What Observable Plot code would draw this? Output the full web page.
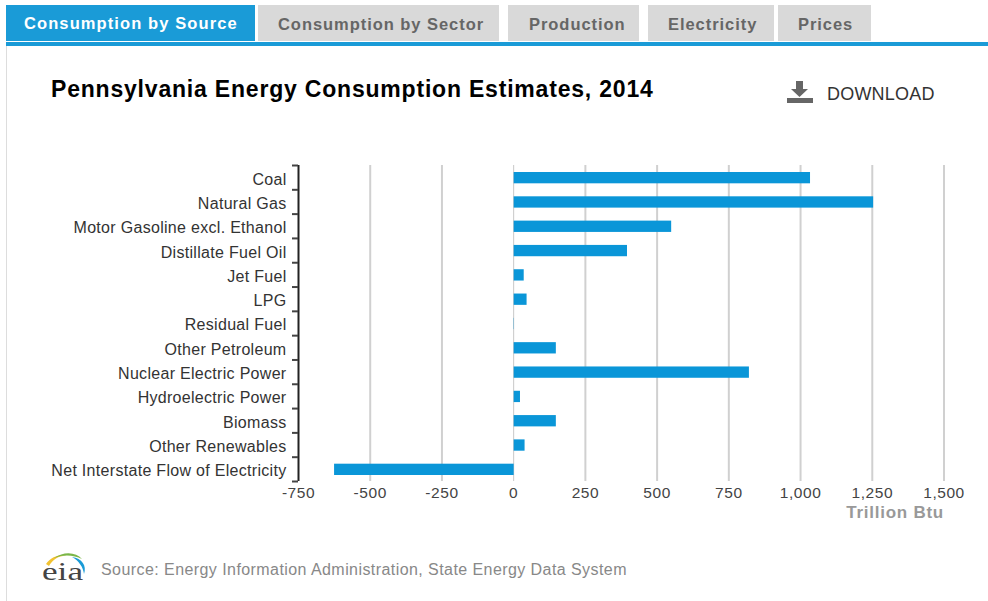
<!DOCTYPE html>
<html><head><meta charset="utf-8">
<script src="https://cdn.jsdelivr.net/npm/d3@7"></script>
<script src="https://cdn.jsdelivr.net/npm/@observablehq/plot@0.6"></script>
<style>
html,body{margin:0;padding:0;background:#fff;width:988px;height:601px;overflow:hidden;font-family:"Liberation Sans",Arial,sans-serif}
#page{position:relative;width:988px;height:601px}
.tab{position:absolute;top:5px;height:36px;line-height:38px;background:#d9d9d9;color:#666;font-weight:bold;font-size:16.5px;letter-spacing:.95px;white-space:nowrap;box-sizing:border-box}
.tab.on{background:#1a9bd7;color:#fff;line-height:36px;letter-spacing:1.1px}
#rule{position:absolute;left:6px;right:0;top:42px;height:4px;background:#1a9bd7}
#frame{position:absolute;left:6px;top:46px;width:1px;bottom:0;background:#ddd}
#title{position:absolute;left:51px;top:76px;font-weight:bold;font-size:23px;color:#000;letter-spacing:.8px;white-space:nowrap}
#dl{position:absolute;left:827px;top:84px;font-size:18px;color:#333;letter-spacing:.2px;white-space:nowrap}
#dlicon{position:absolute;left:786px;top:80px}
#chart{position:absolute;left:0;top:150px}
#chart text{letter-spacing:.3px}
#chart .xlab text{letter-spacing:.55px}
#chart .unit text{letter-spacing:.75px}
#source{position:absolute;left:101px;top:561px;font-size:16px;color:#888;letter-spacing:.43px;white-space:nowrap}
#logo{position:absolute;left:40px;top:551px}
</style></head><body>
<div id="page">
<div class="tab on" style="left:6px;width:249px;padding-left:18px">Consumption by Source</div>
<div class="tab" style="left:258px;width:241px;padding-left:20px">Consumption by Sector</div>
<div class="tab" style="left:508px;width:131px;padding-left:21px">Production</div>
<div class="tab" style="left:648px;width:126px;padding-left:20px">Electricity</div>
<div class="tab" style="left:778px;width:93px;padding-left:20px">Prices</div>
<div id="rule"></div><div id="frame"></div>
<div id="title">Pennsylvania Energy Consumption Estimates, 2014</div>
<svg id="dlicon" width="28" height="24" viewBox="0 0 28 24"><path d="M10 1h7v8h5l-8.500 8-8.500-8h5z" fill="#666"/><rect x="1" y="18" width="26" height="5" fill="#666"/></svg>
<div id="dl">DOWNLOAD</div>
<div id="chart"></div>
<svg id="logo" width="50" height="34" viewBox="0 0 50 34">
<path d="M6 13C12 5 20 3 28 5C20 4 13 8 9 15z" fill="#f2c230"/>
<path d="M14 7C24 0 36 1 42 8C34 4 24 3 14 7z" fill="#7ab648"/>
<path d="M32 6C42 7 47 15 44 23C43 16 39 10 32 6z" fill="#1a9bd7"/>
<text x="2" y="29" font-family="Liberation Serif,serif" font-size="26" textLength="41" lengthAdjust="spacingAndGlyphs" fill="#444">eia</text>
</svg>
<div id="source">Source: Energy Information Administration, State Energy Data System</div>
</div>
<script>
const sources = ["Coal","Natural Gas","Motor Gasoline excl. Ethanol","Distillate Fuel Oil","Jet Fuel","LPG","Residual Fuel","Other Petroleum","Nuclear Electric Power","Hydroelectric Power","Biomass","Other Renewables","Net Interstate Flow of Electricity"];
const consumption = [1033,1253,549,395,35,45,1,147,820,22,147,38,-626];
const xTicks = [-750,-500,-250,0,250,500,750,1000,1250,1500];
const table = sources.map((source,i)=>({source,value:consumption[i]}));
const band = 316/13;
const plot = Plot.plot({
  width:988,height:380,marginLeft:298,marginRight:44.5,marginTop:15,marginBottom:49,
  style:{fontFamily:'"Liberation Sans",Arial,sans-serif',background:"transparent",overflow:"visible"},
  x:{domain:[-750,1500]},
  y:{domain:sources,padding:0,align:0.5,round:false},
  marks:[
    Plot.ruleX(xTicks.filter(d=>d!==-750&&d!==0),{stroke:"#d0d0d0",strokeWidth:2}),
    Plot.ruleX([0],{stroke:"#c8c8c8",strokeWidth:1}),
    Plot.barX(table,{x1:d=>Math.min(d.value,0),x2:d=>Math.max(d.value,0),y:"source",fill:"#0a96d8",insetTop:6.500,insetBottom:6.500,dy:0.5,dx:0.5}),
    Plot.ruleX([-750],{stroke:"#222",strokeWidth:2}),
    Plot.ruleY(sources,{y:d=>d,x1:-771,x2:-750,stroke:"#444",strokeWidth:2,dy:-band/2}),
    Plot.ruleY(sources.slice(-1),{y:d=>d,x1:-771,x2:-750,stroke:"#444",strokeWidth:2,dy:band/2}),
    Plot.axisY({anchor:"left",tickSize:0,tickPadding:12,label:null,fontSize:16,color:"#333",dy:1.800,lineAnchor:"middle"}),
    Plot.axisX(xTicks,{anchor:"bottom",tickSize:0,tickPadding:4,label:null,fontSize:15.500,color:"#444",className:"xlab",tickFormat:d=>d3.format(",")(d).replace("\u2212","-"),dy:1}),
    Plot.text(["Trillion Btu"],{frameAnchor:"bottom-right",text:d=>d,fontSize:17,fontWeight:"bold",fill:"#999",dy:36,textAnchor:"end",className:"unit"})
  ]
});
document.getElementById("chart").appendChild(plot);
</script>
</body></html>
